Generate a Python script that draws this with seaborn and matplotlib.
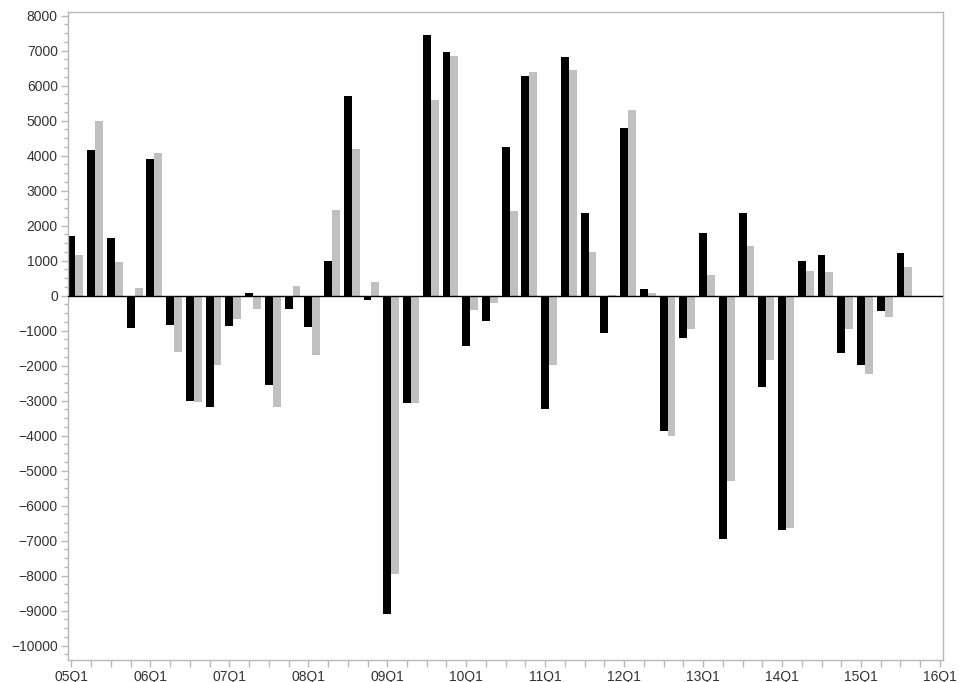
import numpy             as np
import pandas            as pd
import seaborn           as sns
import matplotlib.pyplot as plt
from matplotlib.ticker   import MultipleLocator, FixedLocator

# Quarterly values, 05Q1 .. 15Q3

quarters = [f"{y:02d}Q{q}" for y in range(5, 16) for q in range(1, 5)][:43]

series_a = [1700, 4150, 1650, -920, 3900,
            -850, -3000, -3170, -880, 80,
            -2560, -390, -890, 1000, 5700,
            -120, -9100, -3080, 7450, 6950,
            -1430, -710, 4250, 6270, -3250,
            6820, 2350, -1080, 4800, 200,
            -3870, -1220, 1800, -6950, 2350,
            -2600, -6700, 1000, 1150, -1640,
            -1980, -430, 1230]

series_b = [1150, 5000, 950, 230, 4080,
            -1620, -3030, -1970, -670, -390,
            -3170, 280, -1700, 2450, 4200,
            400, -7950, -3080, 5600, 6860,
            -400, -200, 2420, 6380, -1970,
            6450, 1250, 30, 5300, 70,
            -4000, -950, 580, -5300, 1420,
            -1830, -6650, 700, 670, -950,
            -2250, -600, 820]

year_labels = [f"{y:02d}Q1" for y in range(5, 17)]

#####

df = pd.DataFrame({"quarter": quarters * 2,
                   "value"  : series_a + series_b,
                   "series" : ["A"] * len(series_a) + ["B"] * len(series_b)})

sns.set_style("white")
plt.rcParams["font.family"] = ["Liberation Sans", "DejaVu Sans"]

fig = plt.figure(figsize = (9.59, 6.82), dpi = 100, facecolor = "white")
ax  = fig.add_axes([67.5 / 959, 1 - 660 / 682, (943.3 - 67.5) / 959, (660 - 11.7) / 682])

sns.barplot(data = df, x = "quarter", y = "value", hue = "series", order = quarters,
            palette = ["black", "#c0c0c0"], saturation = 1, width = 0.8,
            errorbar = None, legend = False, linewidth = 0, ax = ax)

ax.axhline(0, color = "black", lw = 1, zorder = 3)

# black bar sits on the quarter tick, grey one to its right
shift = -0.2
ax.set_xlim(-0.2 + shift, 44.17 + shift)
ax.xaxis.set_major_locator(FixedLocator([4 * k + shift for k in range(len(year_labels))]))
ax.set_xticklabels(year_labels)
ax.xaxis.set_minor_locator(FixedLocator([i + shift for i in range(45)]))

ax.set_ylim(-10410, 8115)
ax.set_yticks(np.arange(-10000, 8001, 1000))
ax.yaxis.set_minor_locator(MultipleLocator(250))

ax.set_xlabel("")
ax.set_ylabel("")

border = "#b4bbbf"
for s in ax.spines.values():
    s.set_color(border)
    s.set_linewidth(1)

ax.tick_params(axis = "both", which = "major", direction = "out", length = 5, width = 1,
               color = border, labelsize = 10, labelcolor = "#333333", pad = 2,
               bottom = True, left = True)
ax.tick_params(axis = "y", which = "minor", direction = "out", length = 3, width = 1,
               color = border, left = True)
ax.tick_params(axis = "x", which = "minor", direction = "out", length = 5, width = 1,
               color = border, bottom = True)

fig.savefig("out.png", dpi = 100, facecolor = "white")
